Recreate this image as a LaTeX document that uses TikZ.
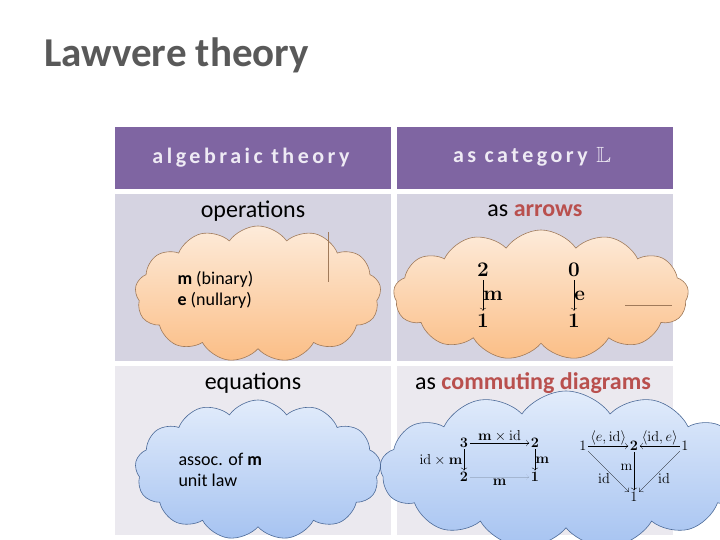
\documentclass[tikz,border=0pt]{standalone}
\usepackage[no-math]{fontspec}
\usepackage{amssymb}
\setmainfont{Carlito}
\newfontfamily\spacedfont[LetterSpace=16]{Carlito}
\usetikzlibrary{shapes.symbols,arrows.meta}
\definecolor{titlegray}{HTML}{595959}
\definecolor{headpurple}{HTML}{7F65A2}
\definecolor{headtext}{HTML}{EEEAF4}
\definecolor{rowa}{HTML}{D5D3E1}
\definecolor{rowb}{HTML}{EBE9EF}
\definecolor{accent}{HTML}{B9504E}
\definecolor{orangetop}{HTML}{FDEBDA}
\definecolor{orangebot}{HTML}{FBBE86}
\definecolor{orangeline}{HTML}{A07A5A}
\definecolor{bluetop}{HTML}{E2ECFB}
\definecolor{bluebot}{HTML}{A6C3F1}
\definecolor{blueline}{HTML}{4C6A98}
\tikzset{
  headcell/.style={fill=headpurple, draw=none},
  cella/.style={fill=rowa, draw=none},
  cellb/.style={fill=rowb, draw=none},
  headlabel/.style={text=headtext, font=\spacedfont\bfseries\fontsize{22}{26}\selectfont},
  rowlabel/.style={font=\fontsize{24}{28}\selectfont, text=black},
  orangecloud/.style={cloud, cloud puffs=13, cloud puff arc=110, aspect=2, top color=orangetop, bottom color=orangebot, draw=orangeline, line width=0.6pt, inner sep=0pt},
  bluecloud/.style={cloud, cloud puffs=13, cloud puff arc=110, aspect=2, top color=bluetop, bottom color=bluebot, draw=blueline, line width=0.6pt, inner sep=0pt},
  cloudtext/.style={font=\fontsize{18}{21}\selectfont, align=left, anchor=west},
  mlabel/.style={font=\fontsize{20}{22}\selectfont},
  ar/.style={-{To[length=3pt]}, line width=0.3pt},
}
\begin{document}
\begin{tikzpicture}[x=1pt,y=-1pt]
\useasboundingbox (0,0) rectangle (720,540);
\clip (0,0) rectangle (720,540);
% title
\node[anchor=base west, text=titlegray, font=\bfseries\fontsize{41}{44}\selectfont, inner sep=0pt] (title) at (44,67) {Lawvere theory};
% table cells
\fill[headcell] (115,127) rectangle (391,189);
\fill[headcell] (397,127) rectangle (673,189);
\fill[cella] (115,194) rectangle (391,361);
\fill[cella] (397,194) rectangle (673,361);
\fill[cellb] (115,366) rectangle (391,535);
\fill[cellb] (397,366) rectangle (673,535);
\node[headlabel] (h1) at (251,158) {algebraic theory};
\node[headlabel] (h2) at (532,157) {as category $\mathbb{L}$};
\node[rowlabel] (r1) at (253,211) {operations};
\node[rowlabel] (r2) at (535,211) {as \textbf{\textcolor{accent}{arrows}}};
\node[rowlabel] (r3) at (253,383) {equations};
\node[rowlabel] (r4) at (533,383) {as \textbf{\textcolor{accent}{commuting diagrams}}};
% orange clouds
\node[orangecloud, minimum width=246pt, minimum height=136pt] (oc1) at (258,294) {};
\draw[orangeline, line width=0.4pt] (328,232) -- (328,282);
\node[orangecloud, minimum width=295pt, minimum height=130pt] (oc2) at (541,295) {};
\draw[orangeline, line width=0.4pt] (625,305) -- (672,305);
\node[cloudtext] (ops) at (174,290) {\textbf{m} (binary)\\\textbf{e} (nullary)};
% arrows m, e
\node[mlabel] (two) at (483,270) {$\mathbf{2}$};
\node[mlabel] (onea) at (483,321) {$\mathbf{1}$};
\draw[ar] (two) -- node[right, mlabel, xshift=-3pt] {$\mathbf{m}$} (onea);
\node[mlabel] (zero) at (574,270) {$\mathbf{0}$};
\node[mlabel] (oneb) at (574,321) {$\mathbf{1}$};
\draw[ar] (zero) -- node[right, mlabel, xshift=-3pt] {$\mathbf{e}$} (oneb);
% blue clouds
\node[bluecloud, minimum width=246pt, minimum height=140pt] (bc1) at (258,470) {};
\node[bluecloud, minimum width=372pt, minimum height=158pt] (bc2) at (566,470) {};
\node[cloudtext] (eqs) at (175,470) {assoc. of \textbf{m}\\unit law};
% associativity square
\begin{scope}[every node/.style={font=\fontsize{14}{16}\selectfont, inner sep=1.5pt}]
\node (s3) at (464,443) {$\mathbf{3}$};
\node (s2a) at (535,443) {$\mathbf{2}$};
\node (s2b) at (464,477) {$\mathbf{2}$};
\node (s1) at (535,477) {$\mathbf{1}$};
\draw[ar] (s3) -- node[above] {$\mathbf{m}\times\mathrm{id}$} (s2a);
\draw[ar] (s3) -- node[left] {$\mathrm{id}\times\mathbf{m}$} (s2b);
\draw[ar] (s2a) -- node[right, xshift=-1pt] {$\mathbf{m}$} (s1);
\draw[ar, line width=0.1pt, draw opacity=0.15] (s2b) -- node[below, yshift=-1pt] {$\mathbf{m}$} (s1);
% unit triangle
\node (t1) at (583,446) {$1$};
\node (t2) at (634,446) {$\mathbf{2}$};
\node (t3) at (685,446) {$1$};
\node (t4) at (634,497) {$1$};
\draw[ar] (t1) -- node[above, inner sep=0.5pt] {$\langle e,\mathrm{id}\rangle$} (t2);
\draw[ar] (t3) -- node[above, inner sep=0.5pt] {$\langle \mathrm{id},e\rangle$} (t2);
\draw[ar] (t1) -- node[below left, xshift=3pt] {$\mathrm{id}$} (t4);
\draw[ar] (t3) -- node[below right, xshift=-3pt] {$\mathrm{id}$} (t4);
\draw[ar] (t2) -- node[left, yshift=4pt] {$\mathrm{m}$} (t4);
\end{scope}
\end{tikzpicture}
\end{document}
